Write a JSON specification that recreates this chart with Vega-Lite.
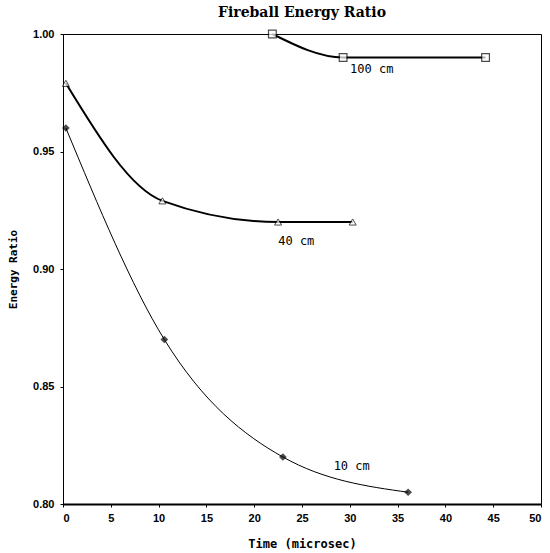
{
  "$schema": "https://vega.github.io/schema/vega-lite/v6.json",
  "width": 478,
  "height": 470,
  "autosize": {"type": "none"},
  "padding": {"left": 63, "top": 34, "right": 9, "bottom": 49},
  "background": "white",
  "title": {"text": "Fireball Energy Ratio", "font": "DejaVu Serif", "fontSize": 14, "fontWeight": "bold", "offset": 8, "anchor": "middle", "color": "black"},
  "config": {"view": {"stroke": "black", "strokeWidth": 1}},
  "datasets": {
    "pts": [
      {"series": "10 cm", "t": 0.3, "ratio": 0.960},
      {"series": "10 cm", "t": 10.6, "ratio": 0.870},
      {"series": "10 cm", "t": 23.0, "ratio": 0.820},
      {"series": "10 cm", "t": 36.1, "ratio": 0.805},
      {"series": "40 cm", "t": 0.3, "ratio": 0.979},
      {"series": "40 cm", "t": 10.4, "ratio": 0.929},
      {"series": "40 cm", "t": 22.5, "ratio": 0.920},
      {"series": "40 cm", "t": 30.3, "ratio": 0.920},
      {"series": "100 cm", "t": 21.9, "ratio": 1.000},
      {"series": "100 cm", "t": 29.3, "ratio": 0.990},
      {"series": "100 cm", "t": 44.2, "ratio": 0.990}
    ],
    "labels": [
      {"label": "100 cm", "t": 32.3, "ratio": 0.985},
      {"label": "40 cm", "t": 24.4, "ratio": 0.912},
      {"label": "10 cm", "t": 30.2, "ratio": 0.816}
    ]
  },
  "encoding": {
    "x": {
      "field": "t", "type": "quantitative",
      "scale": {"domain": [0, 50], "nice": false},
      "axis": {
        "title": "Time (microsec)", "titleFont": "DejaVu Sans Mono", "titleFontSize": 12, "titleFontWeight": "bold", "titleColor": "black", "titlePadding": 15,
        "labelFont": "Liberation Sans", "labelFontWeight": "bold", "labelFontSize": 11, "labelColor": "black", "labelPadding": 5,
        "values": [0, 5, 10, 15, 20, 25, 30, 35, 40, 45, 50], "grid": false,
        "domainColor": "black", "domainWidth": 2, "tickColor": "black", "tickSize": 3
      }
    },
    "y": {
      "field": "ratio", "type": "quantitative",
      "scale": {"domain": [0.8, 1.0], "nice": false, "zero": false},
      "axis": {
        "title": "Energy Ratio", "titleFont": "DejaVu Sans Mono", "titleFontSize": 11, "titleFontWeight": "bold", "titleColor": "black", "titlePadding": 14,
        "labelFont": "Liberation Sans", "labelFontWeight": "bold", "labelFontSize": 11, "labelColor": "black", "labelPadding": 6,
        "values": [0.8, 0.85, 0.9, 0.95, 1.0], "format": ".2f", "grid": false,
        "domainColor": "black", "domainWidth": 1, "tickColor": "black", "tickSize": 3
      }
    }
  },
  "layer": [
    {"data": {"name": "pts"}, "transform": [{"filter": "datum.series === '10 cm'"}], "mark": {"type": "line", "interpolate": "monotone", "color": "black", "strokeWidth": 1}},
    {"data": {"name": "pts"}, "transform": [{"filter": "datum.series === '40 cm'"}], "mark": {"type": "line", "interpolate": "monotone", "color": "black", "strokeWidth": 2}},
    {"data": {"name": "pts"}, "transform": [{"filter": "datum.series === '100 cm'"}], "mark": {"type": "line", "interpolate": "monotone", "color": "black", "strokeWidth": 2}},
    {"data": {"name": "pts"}, "transform": [{"filter": "datum.series === '10 cm'"}], "mark": {"type": "point", "shape": "diamond", "filled": true, "color": "black", "size": 60}},
    {"data": {"name": "pts"}, "transform": [{"filter": "datum.series === '40 cm'"}], "mark": {"type": "point", "shape": "triangle-up", "filled": true, "fill": "white", "stroke": "black", "strokeWidth": 1, "size": 50}},
    {"data": {"name": "pts"}, "transform": [{"filter": "datum.series === '100 cm'"}], "mark": {"type": "point", "shape": "square", "filled": true, "fill": "white", "stroke": "black", "strokeWidth": 1.2, "size": 60}},
    {"data": {"name": "labels"}, "mark": {"type": "text", "font": "DejaVu Sans Mono", "fontSize": 12, "color": "black"}, "encoding": {"text": {"field": "label"}}}
  ]
}
